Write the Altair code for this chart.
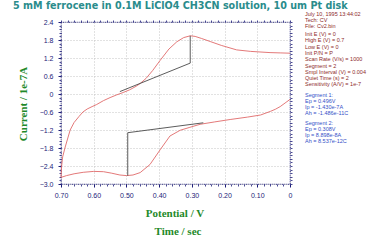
import altair as alt
import pandas as pd

# ---------------- data ----------------
seg1_E = [0.000, 0.015, 0.030, 0.045, 0.060, 0.090, 0.130, 0.183, 0.230, 0.275, 0.306, 0.336,
          0.367, 0.397, 0.428, 0.458, 0.480, 0.500, 0.520, 0.545, 0.570, 0.600, 0.632, 0.660,
          0.683, 0.700]
seg1_I = [-0.18, -0.30, -0.42, -0.51, -0.58, -0.70, -0.77, -0.85, -0.93, -1.01, -1.11, -1.21,
          -1.40, -1.86, -2.35, -2.62, -2.70, -2.72, -2.70, -2.64, -2.59, -2.58, -2.61, -2.66,
          -2.72, -2.78]
seg2_E = [0.700, 0.698, 0.695, 0.688, 0.680, 0.672, 0.660, 0.645, 0.633, 0.620, 0.605, 0.591,
          0.570, 0.550, 0.530, 0.510, 0.490, 0.470, 0.458, 0.440, 0.420, 0.397, 0.370, 0.346,
          0.325, 0.305, 0.290, 0.270, 0.244, 0.210, 0.163, 0.120, 0.061, 0.030, 0.000]
seg2_I = [-2.78, -2.40, -2.10, -1.80, -1.50, -1.20, -0.95, -0.75, -0.60, -0.50, -0.42, -0.35,
          -0.22, -0.12, -0.03, 0.05, 0.14, 0.26, 0.35, 0.52, 0.78, 1.12, 1.50, 1.74,
          1.88, 1.94, 1.92, 1.85, 1.75, 1.62, 1.47, 1.42, 1.38, 1.37, 1.36]
base1_E = [0.496, 0.496, 0.265]
base1_I = [-2.72, -1.29, -0.96]
base2_E = [0.520, 0.305, 0.305]
base2_I = [0.08, 1.03, 1.94]

x_major = [0.7, 0.6, 0.5, 0.4, 0.3, 0.2, 0.1, 0.0]
y_major = [2.4, 1.8, 1.2, 0.6, 0.0, -0.6, -1.2, -1.8, -2.4, -3.0]
x_minor = [round(i * 0.02, 2) for i in range(36)]
y_minor = [round(-3.0 + i * 0.12, 2) for i in range(46)]

title_text = "5 mM ferrocene in 0.1M LiClO4 CH3CN solution, 10 um Pt disk"
y_title = "Current / 1e-7A"
x_title1 = "Potential / V"
x_title2 = "Time / sec"
info_head = ["July 10, 1995   13:44:02", "Tech: CV", "File: Cv2.bin"]
info_params = ["Init E (V) = 0", "High E (V) = 0.7", "Low E (V) = 0", "Init P/N = P",
               "Scan Rate (V/s) = 1000", "Segment = 2", "Smpl Interval (V) = 0.004",
               "Quiet Time (s) = 2", "Sensitivity (A/V) = 1e-7"]
info_seg1 = ["Segment 1:", "Ep = 0.496V", "Ip = -1.430e-7A", "Ah = -1.486e-11C"]
info_seg2 = ["Segment 2:", "Ep = 0.308V", "Ip = 8.898e-8A", "Ah = 8.537e-12C"]

# ---------------- tables ----------------
curve = pd.DataFrame({
    "E": seg1_E + seg2_E,
    "I": seg1_I + seg2_I,
    "seg": ["s1"] * len(seg1_E) + ["s2"] * len(seg2_E),
    "o": list(range(len(seg1_E))) + list(range(len(seg2_E))),
})
base = pd.DataFrame({
    "E": base1_E + base2_E,
    "I": base1_I + base2_I,
    "seg": ["b1"] * 3 + ["b2"] * 3,
    "o": [0, 1, 2, 0, 1, 2],
})

NAVY = "#1c1c78"
XS = alt.Scale(domain=[0, 0.7], reverse=True, nice=False, zero=False)
YS = alt.Scale(domain=[-3.0, 2.4], nice=False, zero=False)

ax_x = alt.Axis(values=x_major, orient="bottom", title=None,
                labelExpr="datum.value == 0 ? '0' : format(datum.value, '.2f')",
                labelFont="Liberation Sans", labelFontSize=7, labelColor=NAVY,
                labelPadding=4, tickSize=3, tickColor=NAVY, domain=False,
                grid=True, gridColor="#c4c4c4", gridDash=[1, 2], labelFlush=False,
                labelOverlap=False)
ax_y = alt.Axis(values=y_major, orient="left", title=None,
                labelExpr="datum.value == 0 ? '0' : format(datum.value, '.1f')",
                labelFont="Liberation Sans", labelFontSize=7, labelColor=NAVY,
                labelPadding=5, tickSize=3, tickColor=NAVY, domain=False,
                grid=True, gridColor="#c4c4c4", gridDash=[1, 2], labelFlush=False,
                labelOverlap=False)

lines = alt.Chart(curve).mark_line(color="#e06a6a", strokeWidth=0.9).encode(
    x=alt.X("E:Q", scale=XS, axis=ax_x),
    y=alt.Y("I:Q", scale=YS, axis=ax_y),
    detail="seg:N", order="o:Q")

baselines = alt.Chart(base).mark_line(color="#4a4a4a", strokeWidth=0.9).encode(
    x=alt.X("E:Q", scale=XS, axis=None),
    y=alt.Y("I:Q", scale=YS, axis=None),
    detail="seg:N", order="o:Q")


def minor_axis(orient, vals):
    return alt.Axis(values=vals, orient=orient, title=None, labels=False, domain=False,
                    grid=False, tickSize=2, tickColor=NAVY, tickWidth=0.8)


minor_bl = alt.Chart(curve).mark_point(opacity=0).encode(
    x=alt.X("E:Q", scale=XS, axis=minor_axis("bottom", x_minor)),
    y=alt.Y("I:Q", scale=YS, axis=minor_axis("left", y_minor)))
minor_tr = alt.Chart(curve).mark_point(opacity=0).encode(
    x=alt.X("E:Q", scale=XS, axis=minor_axis("top", x_minor)),
    y=alt.Y("I:Q", scale=YS, axis=minor_axis("right", y_minor)))

one = pd.DataFrame({"a": [0]})
OX, OY = 61, 22  # plot origin in the page


def label(text, x, y, **kw):
    return alt.Chart(one).mark_text(**kw).encode(
        x=alt.value(x - OX), y=alt.value(y - OY), text=alt.value(text))


texts = [
    label(title_text, 13, 6, align="left", baseline="middle", font="DejaVu Sans",
          fontWeight="bold", fontSize=9.6, color="#2a8c8c"),
    label(y_title, 24, 104, align="center", baseline="middle", angle=270,
          font="Liberation Serif", fontWeight="bold", fontSize=11, color="#1f8a2a"),
    label(x_title1, 175, 214, align="center", baseline="middle",
          font="Liberation Serif", fontWeight="bold", fontSize=11, color="#1f8a2a"),
    label(x_title2, 178, 232, align="center", baseline="middle",
          font="Liberation Serif", fontWeight="bold", fontSize=11, color="#1f8a2a"),
]
blocks = [(info_head, 14, 6.2, "#8e2a2a"), (info_params, 34, 6.3, "#8e2a2a"),
          (info_seg1, 95, 6.0, "#3550c8"), (info_seg2, 122.5, 6.0, "#3550c8")]
for lines_, y0, dy, col in blocks:
    for i, t in enumerate(lines_):
        texts.append(label(t, 305, y0 + i * dy, align="left", baseline="middle",
                           font="Liberation Sans", fontSize=5.5, color=col))

chart = alt.layer(minor_bl, minor_tr, lines, baselines, *texts).resolve_axis(
    x="independent", y="independent"
).properties(
    width=229, height=162,
    padding={"left": 61, "top": 22, "right": 88, "bottom": 57},
    autosize=alt.AutoSizeParams(type="none"),
    background="white",
).configure_view(stroke=NAVY, strokeDash=[1, 1], strokeWidth=1.2)

chart.save("out.html", embed_options={"renderer": "svg", "actions": False})
